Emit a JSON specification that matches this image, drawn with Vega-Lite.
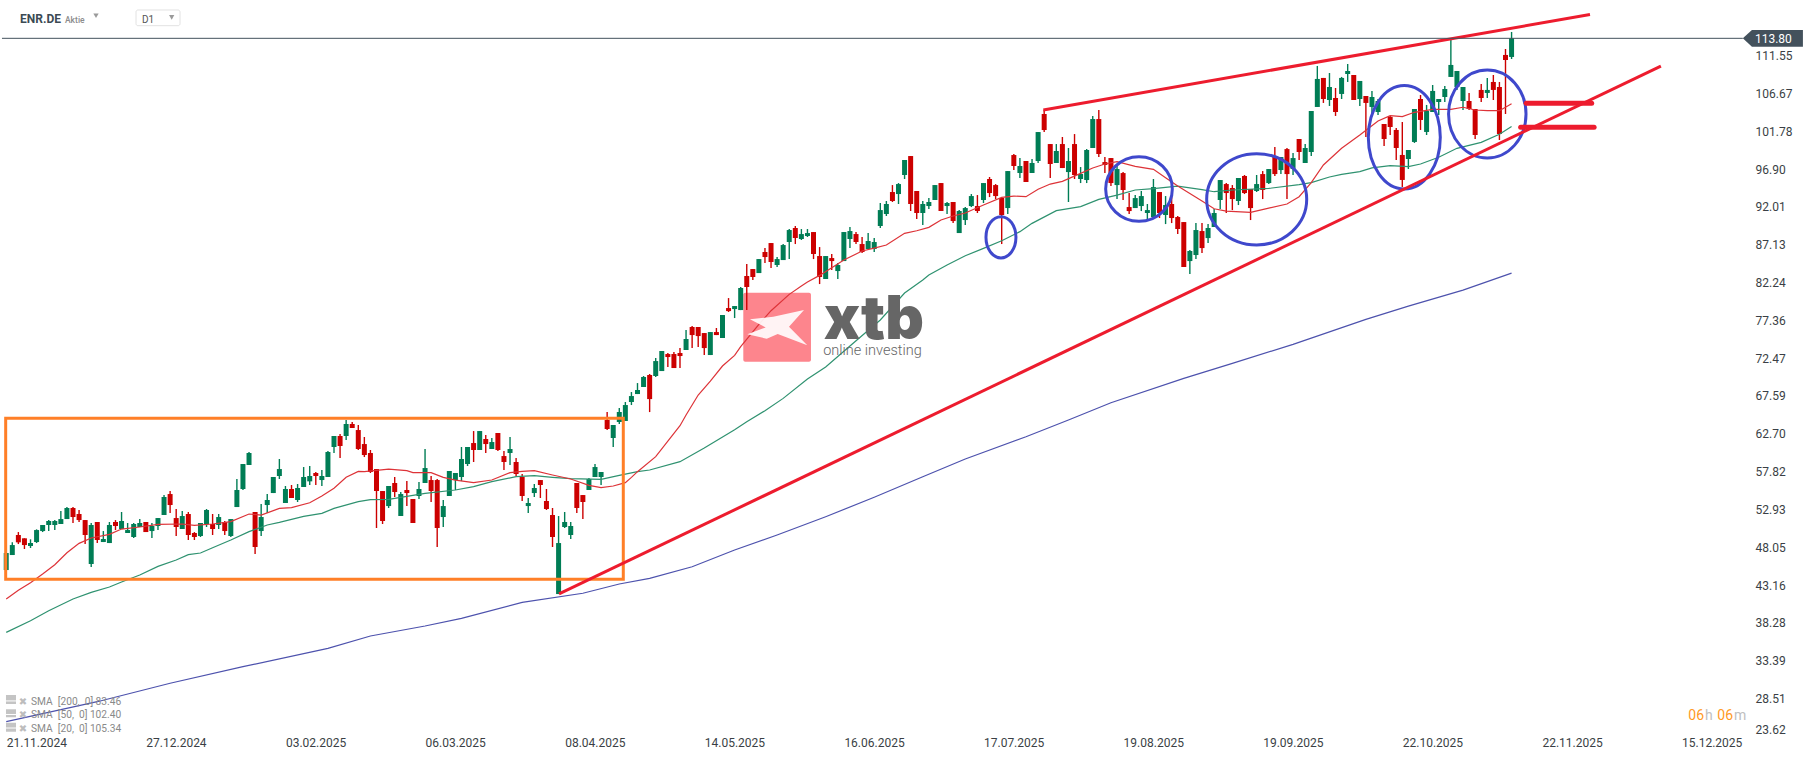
{
"$schema":"https://vega.github.io/schema/vega-lite/v6.json",
"description":"ENR.DE D1 candlestick chart with SMA 20/50/200 and hand drawn trend marks",
"width":1815,"height":761,"padding":0,"autosize":{"type":"none"},"background":"#ffffff",
"config":{"view":{"stroke":null},"font":"Roboto"},
"datasets":{
"candles":[
{"n":0,"o":45.10,"h":47.30,"l":45.10,"c":47.30},
{"n":1,"o":47.04,"h":48.68,"l":47.04,"c":48.33},
{"n":2,"o":49.63,"h":50.01,"l":48.46,"c":48.68},
{"n":3,"o":49.20,"h":49.20,"l":47.82,"c":48.33},
{"n":4,"o":48.21,"h":49.07,"l":47.95,"c":48.59},
{"n":5,"o":48.72,"h":50.36,"l":48.59,"c":50.27},
{"n":6,"o":50.14,"h":50.92,"l":50.01,"c":50.92},
{"n":7,"o":50.92,"h":51.56,"l":50.14,"c":51.44},
{"n":8,"o":50.92,"h":51.56,"l":50.27,"c":51.44},
{"n":9,"o":51.05,"h":52.73,"l":51.05,"c":51.69},
{"n":10,"o":51.69,"h":53.24,"l":51.69,"c":53.12},
{"n":11,"o":53.12,"h":53.24,"l":51.18,"c":51.95},
{"n":12,"o":52.34,"h":52.86,"l":51.31,"c":51.56},
{"n":13,"o":51.56,"h":51.56,"l":48.46,"c":49.63},
{"n":14,"o":45.88,"h":51.18,"l":45.49,"c":50.92},
{"n":15,"o":51.31,"h":51.31,"l":48.59,"c":48.98},
{"n":16,"o":48.72,"h":50.14,"l":48.72,"c":49.11},
{"n":17,"o":48.59,"h":51.31,"l":48.59,"c":50.92},
{"n":18,"o":51.31,"h":51.56,"l":50.27,"c":50.79},
{"n":19,"o":50.40,"h":52.60,"l":50.40,"c":51.44},
{"n":20,"o":49.89,"h":51.18,"l":49.89,"c":50.27},
{"n":21,"o":49.37,"h":51.18,"l":49.24,"c":51.05},
{"n":22,"o":50.66,"h":51.69,"l":50.66,"c":51.18},
{"n":23,"o":51.31,"h":51.31,"l":50.01,"c":50.01},
{"n":24,"o":50.14,"h":51.18,"l":49.24,"c":50.79},
{"n":25,"o":50.79,"h":51.82,"l":50.27,"c":51.82},
{"n":26,"o":52.21,"h":54.79,"l":52.21,"c":54.54},
{"n":27,"o":54.92,"h":55.31,"l":52.47,"c":53.50},
{"n":28,"o":51.82,"h":52.99,"l":49.50,"c":50.66},
{"n":29,"o":50.40,"h":52.73,"l":50.40,"c":52.08},
{"n":30,"o":52.34,"h":52.60,"l":48.98,"c":49.63},
{"n":31,"o":49.89,"h":50.01,"l":48.98,"c":49.37},
{"n":32,"o":49.50,"h":51.18,"l":49.37,"c":51.18},
{"n":33,"o":51.05,"h":52.99,"l":50.66,"c":52.86},
{"n":34,"o":51.05,"h":52.34,"l":49.63,"c":50.40},
{"n":35,"o":50.92,"h":52.34,"l":50.40,"c":51.95},
{"n":36,"o":51.31,"h":51.44,"l":49.63,"c":50.14},
{"n":37,"o":49.50,"h":51.69,"l":49.37,"c":51.69},
{"n":38,"o":53.24,"h":56.86,"l":53.24,"c":55.44},
{"n":39,"o":55.57,"h":58.80,"l":55.44,"c":58.80},
{"n":40,"o":58.67,"h":60.35,"l":58.67,"c":60.22},
{"n":41,"o":52.60,"h":52.60,"l":47.17,"c":48.08},
{"n":42,"o":50.14,"h":53.63,"l":49.50,"c":51.95},
{"n":43,"o":53.50,"h":54.92,"l":52.47,"c":54.15},
{"n":44,"o":55.05,"h":57.12,"l":55.05,"c":57.12},
{"n":45,"o":57.25,"h":59.45,"l":56.86,"c":58.15},
{"n":46,"o":53.76,"h":55.96,"l":53.76,"c":55.57},
{"n":47,"o":55.57,"h":56.09,"l":54.41,"c":54.41},
{"n":48,"o":54.15,"h":56.22,"l":53.89,"c":55.70},
{"n":49,"o":55.83,"h":58.41,"l":55.83,"c":57.12},
{"n":50,"o":56.56,"h":58.54,"l":56.09,"c":57.25},
{"n":51,"o":57.64,"h":57.77,"l":56.09,"c":57.25},
{"n":52,"o":56.73,"h":58.03,"l":55.96,"c":57.25},
{"n":53,"o":57.12,"h":60.48,"l":57.12,"c":60.35},
{"n":54,"o":61.00,"h":62.42,"l":60.22,"c":62.42},
{"n":55,"o":62.42,"h":62.68,"l":59.58,"c":61.13},
{"n":56,"o":62.42,"h":64.49,"l":61.90,"c":63.97},
{"n":57,"o":63.97,"h":64.23,"l":63.45,"c":63.45},
{"n":58,"o":63.19,"h":63.84,"l":60.61,"c":60.74},
{"n":59,"o":61.38,"h":62.29,"l":59.70,"c":59.96},
{"n":60,"o":60.22,"h":60.61,"l":57.64,"c":57.77},
{"n":61,"o":58.15,"h":58.15,"l":50.53,"c":55.31},
{"n":62,"o":55.31,"h":55.31,"l":51.05,"c":51.44},
{"n":63,"o":53.37,"h":55.96,"l":53.12,"c":55.96},
{"n":64,"o":56.35,"h":57.12,"l":54.54,"c":55.18},
{"n":65,"o":52.08,"h":55.18,"l":52.08,"c":54.92},
{"n":66,"o":55.44,"h":56.60,"l":53.37,"c":55.05},
{"n":67,"o":54.28,"h":54.28,"l":51.18,"c":51.18},
{"n":68,"o":54.67,"h":56.47,"l":54.28,"c":55.57},
{"n":69,"o":56.35,"h":60.74,"l":56.35,"c":58.28},
{"n":70,"o":56.73,"h":57.25,"l":53.89,"c":55.31},
{"n":71,"o":56.73,"h":56.86,"l":48.08,"c":50.53},
{"n":72,"o":51.95,"h":54.15,"l":50.66,"c":53.37},
{"n":73,"o":54.67,"h":57.90,"l":54.67,"c":57.90},
{"n":74,"o":56.73,"h":57.64,"l":55.44,"c":57.64},
{"n":75,"o":57.12,"h":61.00,"l":56.60,"c":59.45},
{"n":76,"o":58.80,"h":61.00,"l":58.54,"c":61.00},
{"n":77,"o":61.51,"h":63.06,"l":59.06,"c":60.61},
{"n":78,"o":60.61,"h":63.06,"l":60.61,"c":63.06},
{"n":79,"o":62.03,"h":62.55,"l":60.22,"c":61.38},
{"n":80,"o":60.74,"h":62.16,"l":60.74,"c":61.64},
{"n":81,"o":62.81,"h":62.81,"l":60.48,"c":60.61},
{"n":82,"o":59.83,"h":60.48,"l":58.03,"c":59.06},
{"n":83,"o":60.22,"h":62.29,"l":58.67,"c":60.74},
{"n":84,"o":59.06,"h":59.58,"l":57.25,"c":57.51},
{"n":85,"o":57.12,"h":57.51,"l":54.02,"c":54.67},
{"n":86,"o":53.37,"h":54.41,"l":52.47,"c":53.76},
{"n":87,"o":55.05,"h":56.22,"l":54.54,"c":55.70},
{"n":88,"o":56.73,"h":56.73,"l":54.41,"c":56.09},
{"n":89,"o":54.02,"h":55.57,"l":52.86,"c":52.99},
{"n":90,"o":52.21,"h":53.12,"l":48.08,"c":49.37},
{"n":91,"o":42.00,"h":52.08,"l":42.00,"c":48.59},
{"n":92,"o":50.66,"h":52.60,"l":50.53,"c":51.31},
{"n":93,"o":49.63,"h":51.31,"l":49.11,"c":50.79},
{"n":94,"o":56.35,"h":56.35,"l":52.47,"c":53.12},
{"n":95,"o":54.79,"h":54.79,"l":51.69,"c":53.89},
{"n":96,"o":55.44,"h":56.99,"l":55.44,"c":56.86},
{"n":97,"o":57.12,"h":58.80,"l":57.12,"c":58.41},
{"n":98,"o":57.12,"h":57.77,"l":56.09,"c":57.77},
{"n":99,"o":64.49,"h":65.52,"l":63.19,"c":63.32},
{"n":100,"o":62.16,"h":63.84,"l":61.00,"c":63.84},
{"n":101,"o":64.23,"h":66.04,"l":63.97,"c":65.52},
{"n":102,"o":64.36,"h":66.81,"l":64.36,"c":66.42},
{"n":103,"o":66.81,"h":68.10,"l":66.42,"c":67.58},
{"n":104,"o":67.84,"h":69.26,"l":67.84,"c":68.36},
{"n":105,"o":68.75,"h":70.17,"l":68.75,"c":70.04},
{"n":106,"o":70.30,"h":70.43,"l":65.51,"c":67.19},
{"n":107,"o":70.17,"h":72.49,"l":70.04,"c":72.10},
{"n":108,"o":70.81,"h":73.40,"l":70.81,"c":73.40},
{"n":109,"o":73.01,"h":73.14,"l":71.33,"c":72.62},
{"n":110,"o":73.01,"h":73.27,"l":71.20,"c":71.20},
{"n":111,"o":73.14,"h":73.78,"l":71.20,"c":72.75},
{"n":112,"o":73.53,"h":76.11,"l":73.53,"c":74.95},
{"n":113,"o":76.50,"h":76.63,"l":73.78,"c":75.46},
{"n":114,"o":76.50,"h":76.50,"l":73.91,"c":75.33},
{"n":115,"o":75.72,"h":75.72,"l":72.88,"c":73.78},
{"n":116,"o":72.88,"h":75.85,"l":72.88,"c":75.85},
{"n":117,"o":75.85,"h":76.37,"l":75.46,"c":75.46},
{"n":118,"o":75.08,"h":78.05,"l":75.08,"c":78.05},
{"n":119,"o":78.95,"h":80.24,"l":78.44,"c":78.56},
{"n":120,"o":78.82,"h":79.21,"l":77.66,"c":79.21},
{"n":121,"o":78.69,"h":81.67,"l":78.69,"c":81.54},
{"n":122,"o":83.09,"h":84.64,"l":78.69,"c":81.67},
{"n":123,"o":83.99,"h":83.99,"l":82.57,"c":82.96},
{"n":124,"o":83.47,"h":85.28,"l":83.47,"c":85.28},
{"n":125,"o":86.19,"h":86.70,"l":84.77,"c":85.54},
{"n":126,"o":87.35,"h":87.35,"l":84.12,"c":84.90},
{"n":127,"o":84.51,"h":85.54,"l":84.25,"c":85.28},
{"n":128,"o":85.15,"h":87.22,"l":85.15,"c":87.09},
{"n":129,"o":87.48,"h":89.16,"l":85.28,"c":89.03},
{"n":130,"o":89.29,"h":89.55,"l":87.22,"c":88.00},
{"n":131,"o":87.87,"h":89.16,"l":87.74,"c":88.51},
{"n":132,"o":88.26,"h":89.16,"l":88.13,"c":88.64},
{"n":133,"o":88.77,"h":88.77,"l":85.28,"c":85.93},
{"n":134,"o":85.67,"h":86.83,"l":82.05,"c":82.96},
{"n":135,"o":82.70,"h":85.67,"l":82.70,"c":85.67},
{"n":136,"o":85.41,"h":85.93,"l":83.86,"c":85.02},
{"n":137,"o":83.73,"h":84.77,"l":82.70,"c":84.51},
{"n":138,"o":85.02,"h":88.77,"l":85.02,"c":88.77},
{"n":139,"o":87.87,"h":89.42,"l":86.70,"c":88.90},
{"n":140,"o":88.51,"h":88.77,"l":87.22,"c":87.48},
{"n":141,"o":87.22,"h":88.13,"l":86.06,"c":86.19},
{"n":142,"o":86.58,"h":88.64,"l":86.58,"c":87.61},
{"n":143,"o":86.58,"h":88.00,"l":86.19,"c":87.48},
{"n":144,"o":89.55,"h":92.52,"l":89.29,"c":91.61},
{"n":145,"o":91.10,"h":92.78,"l":90.84,"c":92.39},
{"n":146,"o":93.94,"h":94.84,"l":92.65,"c":92.78},
{"n":147,"o":93.68,"h":95.10,"l":92.39,"c":94.97},
{"n":148,"o":96.14,"h":98.08,"l":95.62,"c":98.08},
{"n":149,"o":98.59,"h":98.59,"l":91.49,"c":92.39},
{"n":150,"o":94.07,"h":94.07,"l":90.45,"c":91.23},
{"n":151,"o":91.23,"h":92.78,"l":89.68,"c":92.39},
{"n":152,"o":92.13,"h":93.17,"l":91.74,"c":92.65},
{"n":153,"o":92.91,"h":94.84,"l":92.91,"c":94.84},
{"n":154,"o":95.10,"h":95.10,"l":91.49,"c":91.49},
{"n":155,"o":92.13,"h":92.65,"l":91.10,"c":92.52},
{"n":156,"o":92.65,"h":92.65,"l":89.94,"c":90.19},
{"n":157,"o":88.64,"h":91.61,"l":88.64,"c":91.49},
{"n":158,"o":90.32,"h":92.00,"l":89.68,"c":91.87},
{"n":159,"o":92.13,"h":93.68,"l":92.00,"c":93.42},
{"n":160,"o":92.13,"h":93.55,"l":91.23,"c":91.49},
{"n":161,"o":92.91,"h":95.10,"l":92.52,"c":95.10},
{"n":162,"o":95.62,"h":95.88,"l":93.29,"c":93.81},
{"n":163,"o":94.84,"h":94.97,"l":93.04,"c":93.42},
{"n":164,"o":93.17,"h":93.17,"l":87.22,"c":90.97},
{"n":165,"o":91.87,"h":96.65,"l":91.10,"c":96.65},
{"n":166,"o":98.72,"h":98.85,"l":96.78,"c":97.30},
{"n":167,"o":96.40,"h":98.33,"l":95.75,"c":97.30},
{"n":168,"o":97.95,"h":97.95,"l":95.23,"c":95.23},
{"n":169,"o":96.40,"h":98.20,"l":96.40,"c":97.69},
{"n":170,"o":97.95,"h":101.69,"l":97.69,"c":101.69},
{"n":171,"o":104.02,"h":104.54,"l":101.69,"c":101.95},
{"n":172,"o":100.14,"h":100.14,"l":95.75,"c":97.56},
{"n":173,"o":97.69,"h":100.14,"l":97.69,"c":99.24},
{"n":174,"o":100.14,"h":101.05,"l":97.04,"c":97.04},
{"n":175,"o":96.52,"h":99.63,"l":92.65,"c":97.95},
{"n":176,"o":100.14,"h":101.43,"l":95.62,"c":96.14},
{"n":177,"o":95.62,"h":97.17,"l":95.10,"c":96.27},
{"n":178,"o":95.49,"h":99.50,"l":95.10,"c":99.37},
{"n":179,"o":99.63,"h":103.76,"l":99.63,"c":103.37},
{"n":180,"o":103.37,"h":104.54,"l":98.46,"c":98.85},
{"n":181,"o":97.81,"h":98.46,"l":96.39,"c":97.43},
{"n":182,"o":98.33,"h":98.33,"l":94.71,"c":95.10},
{"n":183,"o":94.84,"h":97.56,"l":93.03,"c":96.91},
{"n":184,"o":96.39,"h":96.52,"l":92.91,"c":94.20},
{"n":185,"o":92.00,"h":93.81,"l":91.10,"c":91.48},
{"n":186,"o":91.87,"h":93.55,"l":91.87,"c":93.16},
{"n":187,"o":92.13,"h":94.07,"l":91.48,"c":93.42},
{"n":188,"o":91.23,"h":92.39,"l":90.45,"c":91.61},
{"n":189,"o":90.71,"h":95.62,"l":90.71,"c":94.58},
{"n":190,"o":93.94,"h":93.94,"l":90.58,"c":91.23},
{"n":191,"o":90.97,"h":93.42,"l":89.80,"c":92.26},
{"n":192,"o":92.39,"h":93.29,"l":89.93,"c":90.58},
{"n":193,"o":90.71,"h":90.84,"l":88.51,"c":89.16},
{"n":194,"o":90.06,"h":90.06,"l":84.25,"c":84.25},
{"n":195,"o":85.02,"h":86.44,"l":83.34,"c":86.32},
{"n":196,"o":85.80,"h":89.93,"l":85.28,"c":89.03},
{"n":197,"o":88.90,"h":89.93,"l":86.06,"c":86.70},
{"n":198,"o":87.99,"h":89.80,"l":87.35,"c":89.29},
{"n":199,"o":89.42,"h":91.74,"l":89.42,"c":91.23},
{"n":200,"o":92.91,"h":95.49,"l":91.74,"c":95.49},
{"n":201,"o":94.97,"h":95.10,"l":91.23,"c":93.81},
{"n":202,"o":94.46,"h":94.84,"l":91.61,"c":93.03},
{"n":203,"o":92.78,"h":95.75,"l":92.26,"c":95.75},
{"n":204,"o":96.01,"h":96.14,"l":93.68,"c":93.81},
{"n":205,"o":94.33,"h":94.33,"l":90.32,"c":91.87},
{"n":206,"o":94.07,"h":96.14,"l":93.94,"c":94.97},
{"n":207,"o":96.26,"h":96.65,"l":93.03,"c":94.20},
{"n":208,"o":95.10,"h":96.91,"l":94.97,"c":96.91},
{"n":209,"o":98.59,"h":99.75,"l":96.01,"c":96.26},
{"n":210,"o":96.78,"h":98.46,"l":96.26,"c":98.46},
{"n":211,"o":99.49,"h":99.62,"l":93.03,"c":96.26},
{"n":212,"o":96.91,"h":98.98,"l":96.14,"c":98.33},
{"n":213,"o":100.79,"h":100.79,"l":98.07,"c":99.11},
{"n":214,"o":97.69,"h":100.15,"l":97.69,"c":99.63},
{"n":215,"o":99.11,"h":104.41,"l":98.60,"c":104.41},
{"n":216,"o":104.93,"h":110.23,"l":104.93,"c":108.55},
{"n":217,"o":108.68,"h":108.68,"l":105.45,"c":105.96},
{"n":218,"o":105.83,"h":109.32,"l":105.06,"c":107.51},
{"n":219,"o":106.09,"h":107.38,"l":103.77,"c":104.28},
{"n":220,"o":106.61,"h":108.81,"l":105.96,"c":108.68},
{"n":221,"o":109.19,"h":110.48,"l":108.16,"c":109.58},
{"n":222,"o":109.06,"h":109.06,"l":105.83,"c":105.83},
{"n":223,"o":105.96,"h":108.29,"l":105.06,"c":108.29},
{"n":224,"o":106.35,"h":106.35,"l":101.05,"c":105.45},
{"n":225,"o":104.93,"h":107.00,"l":103.77,"c":106.22},
{"n":226,"o":104.28,"h":105.96,"l":103.90,"c":105.70},
{"n":227,"o":102.73,"h":102.73,"l":99.89,"c":100.79},
{"n":228,"o":103.64,"h":103.77,"l":101.31,"c":102.34},
{"n":229,"o":101.96,"h":102.22,"l":98.08,"c":99.63},
{"n":230,"o":98.73,"h":102.99,"l":94.59,"c":95.50},
{"n":231,"o":98.21,"h":99.37,"l":96.92,"c":99.37},
{"n":232,"o":100.41,"h":104.67,"l":100.28,"c":104.67},
{"n":233,"o":105.96,"h":106.48,"l":101.96,"c":103.25},
{"n":234,"o":101.70,"h":105.19,"l":101.31,"c":104.41},
{"n":235,"o":104.28,"h":107.77,"l":104.28,"c":107.00},
{"n":236,"o":105.57,"h":105.96,"l":103.90,"c":105.96},
{"n":237,"o":106.22,"h":107.64,"l":105.57,"c":107.25},
{"n":238,"o":108.81,"h":113.72,"l":108.81,"c":110.36},
{"n":239,"o":107.51,"h":109.58,"l":107.13,"c":109.58},
{"n":240,"o":105.70,"h":107.51,"l":104.54,"c":107.51},
{"n":241,"o":105.70,"h":106.74,"l":104.54,"c":104.67},
{"n":242,"o":104.67,"h":104.67,"l":100.79,"c":101.31},
{"n":243,"o":107.13,"h":107.90,"l":105.57,"c":106.09},
{"n":244,"o":106.74,"h":108.68,"l":106.09,"c":107.13},
{"n":245,"o":108.16,"h":109.06,"l":105.83,"c":107.13},
{"n":246,"o":107.51,"h":108.16,"l":100.66,"c":101.44},
{"n":247,"o":111.65,"h":112.42,"l":104.02,"c":111.00},
{"n":248,"o":111.39,"h":114.62,"l":111.13,"c":113.80}
],
"sma20":[
{"n":0,"p":41.36},{"n":2,"p":42.48},{"n":4,"p":43.47},{"n":6,"p":44.59},{"n":8,"p":45.79},{"n":10,"p":47.34},{"n":12,"p":48.55},{"n":14,"p":49.24},{"n":17,"p":49.71},{"n":19,"p":50.40},{"n":22,"p":50.66},{"n":25,"p":51.00},{"n":29,"p":51.05},{"n":31,"p":50.88},{"n":34,"p":51.05},{"n":37,"p":51.35},{"n":40,"p":52.34},{"n":42,"p":52.21},{"n":45,"p":53.07},{"n":47,"p":53.16},{"n":50,"p":53.80},{"n":52,"p":54.67},{"n":54,"p":55.66},{"n":56,"p":57.08},{"n":58,"p":57.85},{"n":59,"p":57.81},{"n":63,"p":58.15},{"n":66,"p":57.94},{"n":67,"p":57.68},{"n":70,"p":57.68},{"n":72,"p":57.08},{"n":74,"p":56.73},{"n":77,"p":56.39},{"n":80,"p":56.73},{"n":83,"p":57.68},{"n":85,"p":57.85},{"n":87,"p":57.94},{"n":90,"p":57.38},{"n":93,"p":56.86},{"n":96,"p":56.04},{"n":98,"p":55.74},{"n":100,"p":55.96},{"n":102,"p":56.39},{"n":103,"p":57.08},{"n":104,"p":57.81},{"n":107,"p":59.75},{"n":111,"p":63.75},{"n":112,"p":65.13},{"n":114,"p":67.71},{"n":116,"p":69.52},{"n":118,"p":71.46},{"n":120,"p":72.84},{"n":121,"p":73.96},{"n":124,"p":76.84},{"n":126,"p":78.61},{"n":129,"p":80.72},{"n":131,"p":81.80},{"n":132,"p":82.31},{"n":134,"p":83.17},{"n":136,"p":84.16},{"n":138,"p":85.15},{"n":141,"p":86.32},{"n":143,"p":86.70},{"n":145,"p":87.09},{"n":148,"p":88.60},{"n":150,"p":88.94},{"n":152,"p":89.38},{"n":154,"p":90.32},{"n":156,"p":90.84},{"n":158,"p":91.23},{"n":161,"p":92.26},{"n":164,"p":93.25},{"n":166,"p":93.42},{"n":168,"p":93.34},{"n":170,"p":94.29},{"n":172,"p":94.97},{"n":174,"p":95.32},{"n":177,"p":96.35},{"n":179,"p":97.04},{"n":181,"p":97.56},{"n":183,"p":97.86},{"n":186,"p":97.25},{"n":189,"p":96.87},{"n":191,"p":95.79},{"n":193,"p":94.71},{"n":197,"p":92.77},{"n":199,"p":91.78},{"n":201,"p":91.48},{"n":205,"p":91.31},{"n":208,"p":91.87},{"n":211,"p":92.39},{"n":213,"p":93.34},{"n":215,"p":95.15},{"n":217,"p":97.43},{"n":220,"p":99.59},{"n":223,"p":101.31},{"n":226,"p":103.12},{"n":228,"p":103.81},{"n":230,"p":103.68},{"n":232,"p":104.24},{"n":235,"p":104.63},{"n":238,"p":104.63},{"n":240,"p":104.89},{"n":242,"p":104.54},{"n":244,"p":104.45},{"n":246,"p":104.45},{"n":248,"p":105.34}
],
"sma50":[
{"n":0,"p":37.05},{"n":4,"p":38.56},{"n":7,"p":39.85},{"n":11,"p":41.36},{"n":14,"p":42.22},{"n":17,"p":42.91},{"n":19,"p":43.55},{"n":22,"p":44.46},{"n":25,"p":45.58},{"n":28,"p":46.40},{"n":30,"p":47.09},{"n":32,"p":47.30},{"n":34,"p":47.99},{"n":37,"p":48.98},{"n":40,"p":50.06},{"n":43,"p":50.92},{"n":45,"p":51.26},{"n":49,"p":52.04},{"n":52,"p":52.43},{"n":54,"p":53.07},{"n":58,"p":53.93},{"n":60,"p":54.19},{"n":63,"p":54.23},{"n":66,"p":54.62},{"n":69,"p":55.01},{"n":74,"p":55.44},{"n":77,"p":55.87},{"n":80,"p":56.52},{"n":84,"p":57.16},{"n":87,"p":57.29},{"n":90,"p":57.08},{"n":93,"p":56.91},{"n":98,"p":56.82},{"n":101,"p":57.34},{"n":104,"p":57.81},{"n":106,"p":58.03},{"n":111,"p":59.10},{"n":115,"p":60.87},{"n":120,"p":63.23},{"n":122,"p":64.27},{"n":125,"p":65.69},{"n":128,"p":67.28},{"n":132,"p":69.78},{"n":135,"p":71.33},{"n":139,"p":74.05},{"n":144,"p":77.41},{"n":148,"p":80.89},{"n":151,"p":82.57},{"n":152,"p":83.22},{"n":155,"p":84.51},{"n":158,"p":85.71},{"n":161,"p":86.66},{"n":164,"p":87.65},{"n":167,"p":88.82},{"n":169,"p":89.89},{"n":173,"p":91.53},{"n":177,"p":92.05},{"n":180,"p":92.99},{"n":183,"p":93.55},{"n":186,"p":94.20},{"n":189,"p":94.37},{"n":193,"p":94.71},{"n":197,"p":94.24},{"n":199,"p":93.98},{"n":202,"p":94.20},{"n":208,"p":94.41},{"n":213,"p":94.89},{"n":215,"p":95.15},{"n":218,"p":95.88},{"n":220,"p":96.23},{"n":223,"p":96.57},{"n":225,"p":97.05},{"n":228,"p":97.35},{"n":231,"p":97.22},{"n":233,"p":97.56},{"n":236,"p":98.43},{"n":239,"p":99.59},{"n":243,"p":100.36},{"n":246,"p":101.40},{"n":248,"p":102.40}
],
"sma200":[
{"n":0,"p":25.51},{"n":15,"p":28.09},{"n":27,"p":30.47},{"n":39,"p":32.62},{"n":53,"p":34.99},{"n":60,"p":36.58},{"n":69,"p":37.87},{"n":75,"p":38.86},{"n":85,"p":40.93},{"n":95,"p":42.10},{"n":101,"p":43.30},{"n":106,"p":44.03},{"n":113,"p":45.53},{"n":120,"p":47.69},{"n":127,"p":49.63},{"n":135,"p":51.99},{"n":143,"p":54.50},{"n":151,"p":57.16},{"n":158,"p":59.45},{"n":168,"p":62.33},{"n":175,"p":64.49},{"n":182,"p":66.72},{"n":194,"p":69.87},{"n":202,"p":71.81},{"n":212,"p":74.25},{"n":224,"p":77.49},{"n":231,"p":79.19},{"n":240,"p":81.26},{"n":248,"p":83.46}
],
"rims":[
{"e":1,"k":0,"n":166.35,"p":88.09},{"e":1,"k":1,"n":165.63,"p":89.98},{"e":1,"k":2,"n":163.88,"p":90.76},{"e":1,"k":3,"n":162.13,"p":89.98},{"e":1,"k":4,"n":161.41,"p":88.09},{"e":1,"k":5,"n":162.13,"p":86.20},{"e":1,"k":6,"n":163.88,"p":85.42},{"e":1,"k":7,"n":165.63,"p":86.20},
{"e":2,"k":0,"n":192.11,"p":94.33},{"e":2,"k":1,"n":190.50,"p":97.28},{"e":2,"k":2,"n":186.62,"p":98.50},{"e":2,"k":3,"n":182.74,"p":97.28},{"e":2,"k":4,"n":181.13,"p":94.33},{"e":2,"k":5,"n":182.74,"p":91.38},{"e":2,"k":6,"n":186.62,"p":90.16},{"e":2,"k":7,"n":190.50,"p":91.38},
{"e":3,"k":0,"n":214.25,"p":93.00},{"e":3,"k":1,"n":211.84,"p":97.17},{"e":3,"k":2,"n":206.01,"p":98.90},{"e":3,"k":3,"n":200.18,"p":97.17},{"e":3,"k":4,"n":197.77,"p":93.00},{"e":3,"k":5,"n":200.18,"p":88.83},{"e":3,"k":6,"n":206.01,"p":87.10},{"e":3,"k":7,"n":211.84,"p":88.83},
{"e":4,"k":0,"n":236.26,"p":101.01},{"e":4,"k":1,"n":234.52,"p":105.73},{"e":4,"k":2,"n":230.33,"p":107.69},{"e":4,"k":3,"n":226.14,"p":105.73},{"e":4,"k":4,"n":224.40,"p":101.01},{"e":4,"k":5,"n":226.14,"p":96.29},{"e":4,"k":6,"n":230.33,"p":94.33},{"e":4,"k":7,"n":234.52,"p":96.29},
{"e":5,"k":0,"n":250.38,"p":104.02},{"e":5,"k":1,"n":248.51,"p":108.04},{"e":5,"k":2,"n":244.00,"p":109.70},{"e":5,"k":3,"n":239.49,"p":108.04},{"e":5,"k":4,"n":237.62,"p":104.02},{"e":5,"k":5,"n":239.49,"p":100.00},{"e":5,"k":6,"n":244.00,"p":98.34},{"e":5,"k":7,"n":248.51,"p":100.00}
],
"logoStar":[
{"k":0,"n":122.53,"p":77.50},{"k":1,"n":126.37,"p":77.83},{"k":2,"n":131.43,"p":78.70},{"k":3,"n":128.96,"p":76.54},{"k":4,"n":131.97,"p":74.15},{"k":5,"n":127.10,"p":75.60},{"k":6,"n":125.29,"p":74.99},{"k":7,"n":122.10,"p":75.56},{"k":8,"n":125.12,"p":76.45},{"k":9,"n":122.53,"p":77.50}
]
},
"encoding":{
"x":{"field":"n","type":"quantitative","scale":{"domain":[-1.026,297.99],"nice":false,"zero":false,"padding":0},"title":null,
"axis":{"orient":"bottom","offset":-24,"values":[0,23,46,69,92,115,138,161,184,207,230,253,276],"labelExpr":"['21.11.2024','27.12.2024','03.02.2025','06.03.2025','08.04.2025','14.05.2025','16.06.2025','17.07.2025','19.08.2025','19.09.2025','22.10.2025','22.11.2025','15.12.2025'][round(datum.value/23)]","labelAlign":"left","labelBaseline":"top","labelPadding":0,"labelFont":"Roboto","labelFontSize":12,"labelColor":"#3a3f45","labelOverlap":false,"labelBound":false,"labelFlush":false,"domain":false,"ticks":false,"grid":false,"title":null}},
"y":{"field":"p","type":"quantitative","scale":{"domain":[20.43,118.75],"nice":false,"zero":false},"title":null,
"axis":{"orient":"right","offset":-60,"values":[111.55,106.67,101.78,96.90,92.01,87.13,82.24,77.36,72.47,67.59,62.70,57.82,52.93,48.05,43.16,38.28,33.39,28.51,23.62],"format":".2f","labelAlign":"left","labelBaseline":{"condition":{"test":"datum.value<25","value":"bottom"},"value":"middle"},"labelPadding":0,"labelFont":"Roboto","labelFontSize":12,"labelColor":"#3a3f45","labelOverlap":false,"labelBound":false,"labelFlush":false,"domain":false,"ticks":false,"grid":false,"title":null}}
},
"layer":[
{"data":{"values":[{"n":121.43,"n2":132.58,"p":80.93,"p2":72.02}]},"mark":{"type":"rect","fill":"#fd858d","cornerRadius":2},"encoding":{"x2":{"field":"n2"},"y2":{"field":"p2"}}},
{"data":{"name":"candles"},"mark":{"type":"rule","strokeWidth":1.4},"encoding":{"y":{"field":"h","type":"quantitative","title":null,"axis":{"orient":"right","offset":-60,"values":[111.55,106.67,101.78,96.90,92.01,87.13,82.24,77.36,72.47,67.59,62.70,57.82,52.93,48.05,43.16,38.28,33.39,28.51,23.62],"format":".2f","labelAlign":"left","labelBaseline":{"condition":{"test":"datum.value<25","value":"bottom"},"value":"middle"},"labelPadding":0,"labelFont":"Roboto","labelFontSize":12,"labelColor":"#3a3f45","labelOverlap":false,"labelBound":false,"labelFlush":false,"domain":false,"ticks":false,"grid":false,"title":null}},"y2":{"field":"l"},"color":{"condition":{"test":"datum.c>=datum.o","value":"#007d55"},"value":"#cc0000"}}},
{"data":{"name":"candles"},"mark":{"type":"bar","size":5},"encoding":{"y":{"field":"o","type":"quantitative","title":null,"axis":{"orient":"right","offset":-60,"values":[111.55,106.67,101.78,96.90,92.01,87.13,82.24,77.36,72.47,67.59,62.70,57.82,52.93,48.05,43.16,38.28,33.39,28.51,23.62],"format":".2f","labelAlign":"left","labelBaseline":{"condition":{"test":"datum.value<25","value":"bottom"},"value":"middle"},"labelPadding":0,"labelFont":"Roboto","labelFontSize":12,"labelColor":"#3a3f45","labelOverlap":false,"labelBound":false,"labelFlush":false,"domain":false,"ticks":false,"grid":false,"title":null}},"y2":{"field":"c"},"color":{"condition":{"test":"datum.c>=datum.o","value":"#007d55"},"value":"#cc0000"}}},
{"data":{"name":"sma200"},"mark":{"type":"line","color":"#4d52ad","strokeWidth":1.2}},
{"data":{"name":"sma50"},"mark":{"type":"line","color":"#2f9270","strokeWidth":1.2}},
{"data":{"name":"sma20"},"mark":{"type":"line","color":"#dd3338","strokeWidth":1.2}},
{"data":{"name":"logoStar"},"mark":{"type":"line","fill":"#ffffff","fillOpacity":0.9,"strokeWidth":0},"encoding":{"order":{"field":"k"}}},
{"data":{"values":[{"n":134.7,"p":74.95,"t":"xtb"}]},"mark":{"type":"text","font":"Inter","fontWeight":900,"fontSize":60,"align":"left","baseline":"alphabetic","color":"#666666"},"encoding":{"text":{"field":"t"}}},
{"data":{"values":[{"n":134.6,"p":72.88,"t":"online investing"}]},"mark":{"type":"text","font":"Roboto","fontWeight":300,"fontSize":14.5,"align":"left","baseline":"alphabetic","color":"#666666"},"encoding":{"text":{"field":"t"}}},
{"data":{"values":[{"n":-0.09,"n2":101.66,"p":64.71,"p2":43.90}]},"mark":{"type":"rect","filled":false,"stroke":"#ff7f27","strokeWidth":3},"encoding":{"x2":{"field":"n2"},"y2":{"field":"p2"}}},
{"data":{"name":"rims"},"mark":{"type":"line","interpolate":"cardinal-closed","tension":-0.12,"color":"#3f48cc","strokeWidth":3},"encoding":{"detail":{"field":"e"},"order":{"field":"k"}}},
{"data":{"values":[{"n":91.07,"n2":272.6,"p":42.01,"p2":110.22},{"n":170.86,"n2":260.92,"p":104.54,"p2":116.88}]},"mark":{"type":"rule","color":"#ed1c2e","strokeWidth":3},"encoding":{"x2":{"field":"n2"},"y2":{"field":"p2"}}},
{"data":{"values":[{"n":250.4,"n2":261.2,"p":105.40,"p2":105.40},{"n":249.5,"n2":261.6,"p":102.30,"p2":102.30}]},"mark":{"type":"rule","color":"#ed1c2e","strokeWidth":5,"strokeCap":"round"},"encoding":{"x2":{"field":"n2"},"y2":{"field":"p2"}}},
{"data":{"values":[{"n":-0.7,"n2":286.1,"p":113.8,"p2":113.8}]},"mark":{"type":"rule","color":"#43515c","strokeWidth":1},"encoding":{"x2":{"field":"n2"},"y2":{"field":"p2"}}},
{"data":{"values":[{"n":286.1,"p":113.8,"p2":113.8},{"n":287.6,"p":114.87,"p2":112.72},{"n":296,"p":114.87,"p2":112.72}]},"mark":{"type":"area","color":"#43515c"},"encoding":{"y2":{"field":"p2"}}},
{"data":{"values":[{"n":288.1,"p":113.67,"t":"113.80"}]},"mark":{"type":"text","align":"left","baseline":"middle","font":"Roboto","fontSize":12,"color":"#ffffff"},"encoding":{"text":{"field":"t"}}},
{"data":{"values":[{"n":2.27,"p":116.30,"t":"ENR.DE"}]},"mark":{"type":"text","align":"left","baseline":"middle","font":"Roboto","fontWeight":700,"fontSize":12,"color":"#3c4a54"},"encoding":{"text":{"field":"t"}}},
{"data":{"values":[{"n":9.68,"p":116.23,"t":"Aktie"}]},"mark":{"type":"text","align":"left","baseline":"middle","font":"Roboto","fontWeight":500,"fontSize":8.5,"color":"#8c8c8c"},"encoding":{"text":{"field":"t"}}},
{"data":{"values":[{"n":21.38,"n2":28.63,"p":117.46,"p2":115.43}]},"mark":{"type":"rect","filled":false,"stroke":"#e2e2e2","strokeWidth":1,"cornerRadius":2},"encoding":{"x2":{"field":"n2"},"y2":{"field":"p2"}}},
{"data":{"values":[{"n":22.37,"p":116.2,"t":"D1"}]},"mark":{"type":"text","align":"left","baseline":"middle","font":"Roboto","fontSize":10,"color":"#555555"},"encoding":{"text":{"field":"t"}}},
{"data":{"values":[{"n":14.79,"p":116.72},{"n":27.26,"p":116.51}]},"mark":{"type":"point","shape":"triangle-down","filled":true,"size":28,"color":"#9a9a9a","opacity":1}},
{"data":{"values":[{"n":-0.04,"n2":1.61,"p":28.96,"p2":27.79},{"n":-0.04,"n2":1.61,"p":27.11,"p2":26.07},{"n":-0.04,"n2":1.61,"p":25.38,"p2":24.21}]},"mark":{"type":"rect","fill":"#c4c4c4"},"encoding":{"x2":{"field":"n2"},"y2":{"field":"p2"}}},
{"data":{"values":[{"n":-0.04,"n2":1.61,"p":28.19,"p2":28.19},{"n":-0.04,"n2":1.61,"p":26.44,"p2":26.44},{"n":-0.04,"n2":1.61,"p":24.69,"p2":24.69}]},"mark":{"type":"rule","color":"#ffffff","strokeWidth":1},"encoding":{"x2":{"field":"n2"},"y2":{"field":"p2"}}},
{"data":{"values":[{"n":2.76,"p":28.09,"t":"✖"},{"n":2.76,"p":26.33,"t":"✖"},{"n":2.76,"p":24.53,"t":"✖"}]},"mark":{"type":"text","align":"center","baseline":"middle","font":"DejaVu Sans","fontSize":10,"color":"#bdbdbd"},"encoding":{"text":{"field":"t"}}},
{"data":{"values":[{"n":4.08,"p":28.09,"t":"SMA\u00a0\u00a0[200,\u00a0\u00a00] 83.46"},{"n":4.08,"p":26.33,"t":"SMA\u00a0\u00a0[50,\u00a0\u00a00] 102.40"},{"n":4.08,"p":24.53,"t":"SMA\u00a0\u00a0[20,\u00a0\u00a00] 105.34"}]},"mark":{"type":"text","align":"left","baseline":"middle","font":"Roboto","fontSize":10.2,"color":"#8a8a8a"},"encoding":{"text":{"field":"t"}}},
{"data":{"values":[{"n":277.11,"p":26.24,"t":"06"},{"n":281.9,"p":26.24,"t":"06"}]},"mark":{"type":"text","align":"left","baseline":"middle","font":"Roboto","fontSize":14,"color":"#ff9a1f"},"encoding":{"text":{"field":"t"}}},
{"data":{"values":[{"n":279.86,"p":26.24,"t":"h"},{"n":284.65,"p":26.24,"t":"m"}]},"mark":{"type":"text","align":"left","baseline":"middle","font":"Roboto","fontSize":14,"color":"#c0c0c0"},"encoding":{"text":{"field":"t"}}}
]
}
